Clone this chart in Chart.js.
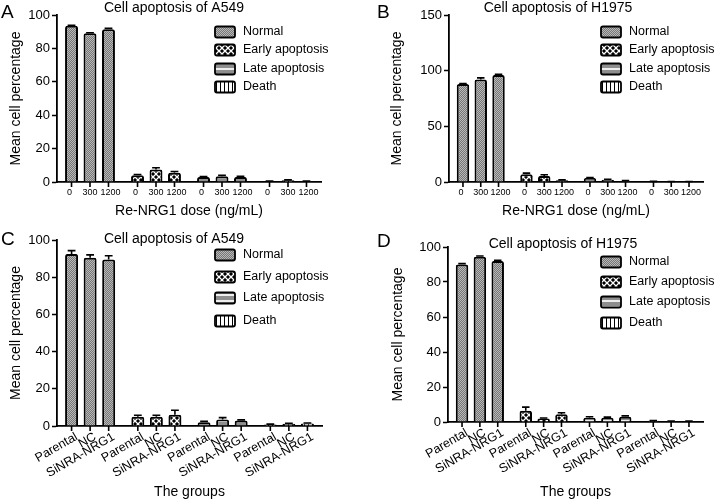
<!DOCTYPE html>
<html>
<head>
<meta charset="utf-8">
<script src="https://cdn.jsdelivr.net/npm/chart.js@4.4.1/dist/chart.umd.min.js"></script>
<style>
    body { margin: 0; background: #fff; }
    #wrap { position: relative; width: 716px; height: 504px; overflow: hidden; }
    canvas { position: absolute; }
</style>
</head>
<body>
<div id="wrap">
    <canvas id="chartA" width="358" height="226" style="left:0;top:0"></canvas>
    <canvas id="chartB" width="358" height="226" style="left:358px;top:0"></canvas>
    <canvas id="chartC" width="358" height="278" style="left:0;top:226px"></canvas>
    <canvas id="chartD" width="358" height="278" style="left:358px;top:226px"></canvas>
</div>
<script>
const stateLabels = ['Normal', 'Early apoptosis', 'Late apoptosis', 'Death'];
const doseLabels = ['0', '300', '1200'];
const groupLabels = ['Parental', 'NC', 'SiNRA-NRG1'];

// one row per bar inside a state group (dose or cell group), one value per state
const a549DoseMeans = [[93.5, 4, 3, 0.4], [89, 7.5, 3.5, 1], [91.5, 5.5, 3, 0.5]];
const a549DoseErrors = [[0.4, 0.5, 0.3, 0.1], [0.4, 1, 0.5, 0.3], [0.5, 0.8, 0.4, 0.1]];
const h1975DoseMeans = [[88, 7, 3.5, 0.5], [92, 5.5, 2, 0.4], [96, 1.5, 1, 0.3]];
const h1975DoseErrors = [[0.5, 1, 0.5, 0.1], [1.5, 1, 0.5, 0.1], [0.8, 0.4, 0.3, 0.1]];
const a549SirnaMeans = [[92.5, 5, 2, 0.8], [90.5, 5, 3.5, 1.2], [89.5, 6, 3, 1.3]];
const a549SirnaErrors = [[1.8, 0.8, 0.5, 0.2], [1.5, 0.8, 1, 0.3], [2, 2.5, 0.3, 0.3]];
const h1975SirnaMeans = [[90, 6.5, 2.5, 0.7], [94.5, 2, 2.5, 0.5], [92, 4.5, 3, 0.5]];
const h1975SirnaErrors = [[0.5, 2, 0.5, 0.2], [0.4, 0.3, 0.3, 0.1], [0.4, 0.8, 0.5, 0.1]];

const FONT = "'Liberation Sans', Arial, Helvetica, sans-serif";
Chart.defaults.font.family = FONT;
Chart.defaults.color = '#000';

function makePattern(kind) {
    const c = document.createElement('canvas');
    const g = c.getContext('2d');
    if (kind === 'normal') {
        c.width = 2; c.height = 2;
        g.fillStyle = '#767676'; g.fillRect(0, 0, 2, 2);
        g.fillStyle = '#b8b8b8'; g.fillRect(0, 0, 1, 1); g.fillRect(1, 1, 1, 1);
    } else if (kind === 'early') {
        c.width = 6; c.height = 6;
        g.fillStyle = '#000'; g.fillRect(0, 0, 6, 6);
        g.strokeStyle = '#fff'; g.lineWidth = 1.3;
        g.beginPath();
        g.moveTo(0, 0); g.lineTo(6, 6);
        g.moveTo(6, 0); g.lineTo(0, 6);
        g.stroke();
    } else if (kind === 'late') {
        c.width = 1; c.height = 6;
        g.fillStyle = '#8e8e8e'; g.fillRect(0, 0, 1, 6);
        g.fillStyle = '#eeeeee'; g.fillRect(0, 2, 1, 2);
    } else {
        c.width = 4; c.height = 1;
        g.fillStyle = '#fff'; g.fillRect(0, 0, 4, 1);
        g.fillStyle = '#000'; g.fillRect(0, 0, 1, 1);
    }
    return g.createPattern(c, 'repeat');
}

const statePatterns = [makePattern('normal'), makePattern('early'), makePattern('late'), makePattern('death')];

// titles, legend, error bars and per-bar labels
const panelDecor = {
    id: 'panelDecor',
    afterDatasetsDraw(chart, args, o) {
        const ctx = chart.ctx;
        const area = chart.chartArea;
        const yScale = chart.scales.y;
        ctx.save();
        chart.data.datasets.forEach(function (ds, i) {
            const meta = chart.getDatasetMeta(i);
            meta.data.forEach(function (bar, j) {
                const top = yScale.getPixelForValue(ds.data[j] + o.errors[i][j]);
                ctx.strokeStyle = '#000';
                ctx.lineWidth = 1.6;
                ctx.beginPath();
                ctx.moveTo(bar.x, bar.y);
                ctx.lineTo(bar.x, top);
                ctx.moveTo(bar.x - bar.width * 0.3, top);
                ctx.lineTo(bar.x + bar.width * 0.3, top);
                ctx.moveTo(bar.x, area.bottom);
                ctx.lineTo(bar.x, area.bottom + 5);
                ctx.stroke();

                ctx.fillStyle = '#000';
                if (o.rotate) {
                    ctx.save();
                    ctx.font = '12.5px ' + FONT;
                    ctx.translate(bar.x + 5, area.bottom + 10);
                    ctx.rotate(-30 * Math.PI / 180);
                    ctx.textAlign = 'right';
                    ctx.textBaseline = 'middle';
                    ctx.fillText(o.barLabels[i], 0, 0);
                    ctx.restore();
                } else {
                    ctx.font = '9px ' + FONT;
                    ctx.textAlign = 'center';
                    ctx.textBaseline = 'middle';
                    ctx.fillText(o.barLabels[i], bar.x + (i - 1) * 2, area.bottom + 11);
                }
            });
        });
        ctx.restore();
    },
    afterDraw(chart, args, o) {
        const ctx = chart.ctx;
        ctx.save();
        ctx.fillStyle = '#000';
        ctx.textBaseline = 'middle';
        ctx.textAlign = 'left';
        ctx.font = '19px ' + FONT;
        ctx.fillText(o.letter, o.letterX, o.letterY);
        ctx.textAlign = 'center';
        ctx.font = '14px ' + FONT;
        ctx.fillText(o.title, o.titleX, o.titleY);

        ctx.textAlign = 'left';
        ctx.font = '12.5px ' + FONT;
        stateLabels.forEach(function (name, k) {
            const y = o.legendRows[k];
            ctx.fillStyle = statePatterns[k];
            ctx.strokeStyle = '#000';
            ctx.lineWidth = 1.8;
            ctx.beginPath();
            ctx.roundRect(o.legendX, y - 5.5, 20, 11, 2);
            ctx.fill();
            ctx.stroke();
            ctx.fillStyle = '#000';
            ctx.fillText(name, o.legendX + 28, y);
        });
        ctx.restore();
    }
};

function createConfig(p) {
    const datasets = p.means.map(function (row, i) {
        return {
            label: p.barLabels[i],
            data: row,
            backgroundColor: statePatterns,
            borderColor: '#000',
            borderWidth: 2,
            borderRadius: 2,
            categoryPercentage: 0.84,
            barPercentage: 0.7
        };
    });
    return {
        type: 'bar',
        data: { labels: stateLabels, datasets: datasets },
        options: {
            responsive: false,
            animation: false,
            events: [],
            layout: { padding: p.padding },
            plugins: {
                legend: { display: false },
                tooltip: { enabled: false },
                panelDecor: {
                    letter: p.letter, letterX: p.letterX, letterY: p.letterY,
                    title: p.title, titleX: p.titleX, titleY: p.titleY,
                    legendX: p.legendX, legendRows: p.legendRows,
                    barLabels: p.barLabels, errors: p.errors, rotate: p.rotate
                }
            },
            scales: {
                x: {
                    ticks: { display: false },
                    grid: { display: false },
                    border: { color: '#000', width: 1.8 },
                    title: {
                        display: true, text: p.xTitle, color: '#000',
                        font: { size: 14 }, padding: { top: 0, bottom: p.xTitlePad }
                    },
                    afterFit: function (s) { s.height = p.xHeight; }
                },
                y: {
                    min: 0, max: p.yMax,
                    ticks: { stepSize: p.yStep, color: '#000', font: { size: 13 }, padding: 2 },
                    grid: { drawOnChartArea: false, tickLength: 5, tickWidth: 1.5, tickColor: '#000' },
                    border: { color: '#000', width: 1.8 },
                    title: {
                        display: true, text: 'Mean cell percentage', color: '#000',
                        font: { size: 14 }, padding: { top: p.yTitlePad, bottom: 0 }
                    },
                    afterFit: function (s) { s.width = p.yWidth; }
                }
            }
        },
        plugins: [panelDecor]
    };
}

new Chart(document.getElementById('chartA'), createConfig({
    means: a549DoseMeans, errors: a549DoseErrors, barLabels: doseLabels, rotate: false,
    letter: 'A', letterX: 1, letterY: 13, title: 'Cell apoptosis of A549', titleX: 174, titleY: 8,
    legendX: 215, legendRows: [32, 50, 69, 87],
    xTitle: 'Re-NRG1 dose (ng/mL)', xTitlePad: 6, xHeight: 44,
    yMax: 100, yStep: 20, yTitlePad: 8, yWidth: 57,
    padding: { top: 15, right: 37, bottom: 0, left: 0 }
}));

new Chart(document.getElementById('chartB'), createConfig({
    means: h1975DoseMeans, errors: h1975DoseErrors, barLabels: doseLabels, rotate: false,
    letter: 'B', letterX: 19, letterY: 13, title: 'Cell apoptosis of H1975', titleX: 200, titleY: 8,
    legendX: 243, legendRows: [32, 50, 69, 87],
    xTitle: 'Re-NRG1 dose (ng/mL)', xTitlePad: 6, xHeight: 44,
    yMax: 150, yStep: 50, yTitlePad: 31, yWidth: 91,
    padding: { top: 15, right: 13, bottom: 0, left: 0 }
}));

new Chart(document.getElementById('chartC'), createConfig({
    means: a549SirnaMeans, errors: a549SirnaErrors, barLabels: groupLabels, rotate: true,
    letter: 'C', letterX: 1, letterY: 14, title: 'Cell apoptosis of A549', titleX: 174, titleY: 13,
    legendX: 215, legendRows: [29, 51, 72, 95],
    xTitle: 'The groups', xTitlePad: 3, xHeight: 78,
    yMax: 100, yStep: 20, yTitlePad: 8, yWidth: 57,
    padding: { top: 14, right: 36, bottom: 0, left: 0 }
}));

new Chart(document.getElementById('chartD'), createConfig({
    means: h1975SirnaMeans, errors: h1975SirnaErrors, barLabels: groupLabels, rotate: true,
    letter: 'D', letterX: 19, letterY: 16, title: 'Cell apoptosis of H1975', titleX: 205, titleY: 18,
    legendX: 243, legendRows: [36, 56, 76, 97],
    xTitle: 'The groups', xTitlePad: 3, xHeight: 82,
    yMax: 100, yStep: 20, yTitlePad: 32, yWidth: 90,
    padding: { top: 21, right: 13, bottom: 0, left: 0 }
}));
</script>
</body>
</html>
